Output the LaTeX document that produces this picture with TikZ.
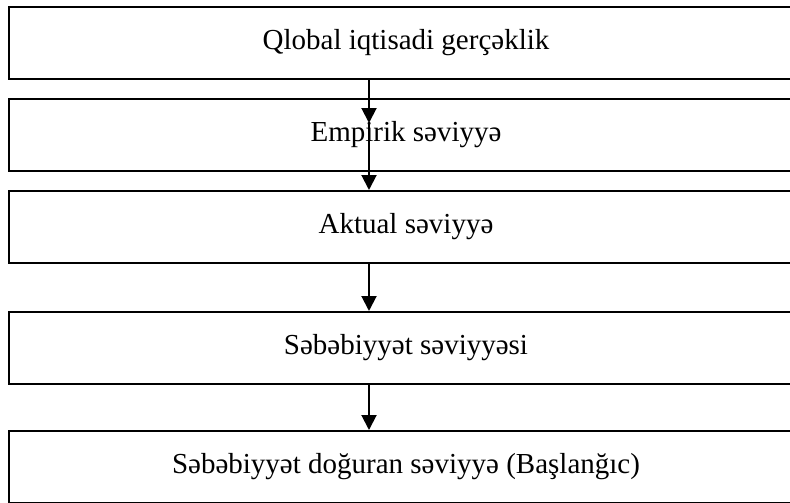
\documentclass[tikz,border=0pt]{standalone}
\usepackage{fontspec}
\setmainfont{Liberation Serif}
\usetikzlibrary{arrows.meta}
\begin{document}
\begin{tikzpicture}[x=1pt,y=1pt,
  levelbox/.style={draw=black, line width=2pt, rectangle, minimum width=794pt, minimum height=72pt, inner sep=0pt, font=\fontsize{29}{34}\selectfont, anchor=north},
  flowarrow/.style={draw=black, line width=2pt, -{Triangle[width=15pt,length=15pt]}}]
\useasboundingbox (0,0) rectangle (790,-503);
\clip (0,0) rectangle (790,-503);
\node[levelbox] (b1) at (406,-6) {Qlobal iqtisadi gerçəklik};
\node[levelbox] (b2) at (406,-98) {Empirik səviyyə};
\node[levelbox] (b3) at (406,-190) {Aktual səviyyə};
\node[levelbox] (b4) at (406,-311) {Səbəbiyyət səviyyəsi};
\node[levelbox] (b5) at (406,-430) {Səbəbiyyət doğuran səviyyə (Başlanğıc)};
\coordinate (ax) at (369,0);
\coordinate (t1) at (369,-123);
\draw[flowarrow] (b1.south -| ax) -- (t1);
\draw[flowarrow] (t1) -- (b3.north -| ax);
\draw[flowarrow] (b3.south -| ax) -- (b4.north -| ax);
\draw[flowarrow] (b4.south -| ax) -- (b5.north -| ax);
\end{tikzpicture}
\end{document}
